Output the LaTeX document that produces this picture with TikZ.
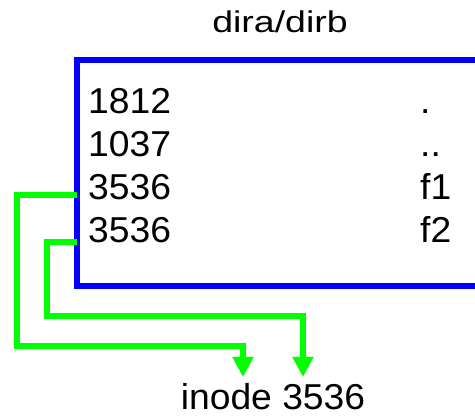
\documentclass[tikz,border=0pt]{standalone}
\usepackage{fontspec}
\setmainfont{Liberation Sans}
\usetikzlibrary{arrows.meta}
\definecolor{pblue}{RGB}{0,0,255}
\definecolor{pgreen}{RGB}{0,255,0}
\newcommand{\wideA}[1]{\scalebox{1.035}[1]{#1}}
\newcommand{\wideB}[1]{\scalebox{1.25}[1]{#1}}
\begin{document}
\begin{tikzpicture}[x=1pt,y=-1pt,
  txt/.style={inner sep=0pt,text depth=0pt,font=\fontsize{36}{40}\selectfont},
  ttl/.style={inner sep=0pt,text depth=0pt,font=\fontsize{30}{34}\selectfont},
  dirbox/.style={draw=pblue,line width=6pt},
  link/.style={draw=pgreen,line width=6pt,-{Triangle[width=20pt,length=20pt]}}]
\useasboundingbox (0,0) rectangle (475,417);
\clip (0,0) rectangle (475,417);
\draw[dirbox] (77,60) rectangle (520,286);
\node[ttl,anchor=base] (title) at (280,33) {\wideB{dira/dirb}};
\node[txt,anchor=base west] (n1) at (88,114) {\wideA{1812}};
\node[txt,anchor=base west] (n2) at (88,157) {\wideA{1037}};
\node[txt,anchor=base west] (n3) at (88,200) {\wideA{3536}};
\node[txt,anchor=base west] (n4) at (88,243) {\wideA{3536}};
\node[txt,anchor=base west] (f0) at (420,114) {\wideA{.}};
\node[txt,anchor=base west] (f00) at (420,157) {\wideA{..}};
\node[txt,anchor=base west] (f1) at (420,200) {\wideA{f1}};
\node[txt,anchor=base west] (f2) at (420,243) {\wideA{f2}};
\node[txt,anchor=base] (inode) at (273,410) {\wideA{inode 3536}};
\coordinate (s1) at (77,195);
\coordinate (s2) at (77,242);
\coordinate (t1) at (243,377);
\coordinate (t2) at (303,377);
\draw[link] (s1) -- (17,195) -- (17,346) -- (243,346) -- (t1);
\draw[link] (s2) -- (47,242) -- (47,316) -- (303,316) -- (t2);
\end{tikzpicture}
\end{document}
